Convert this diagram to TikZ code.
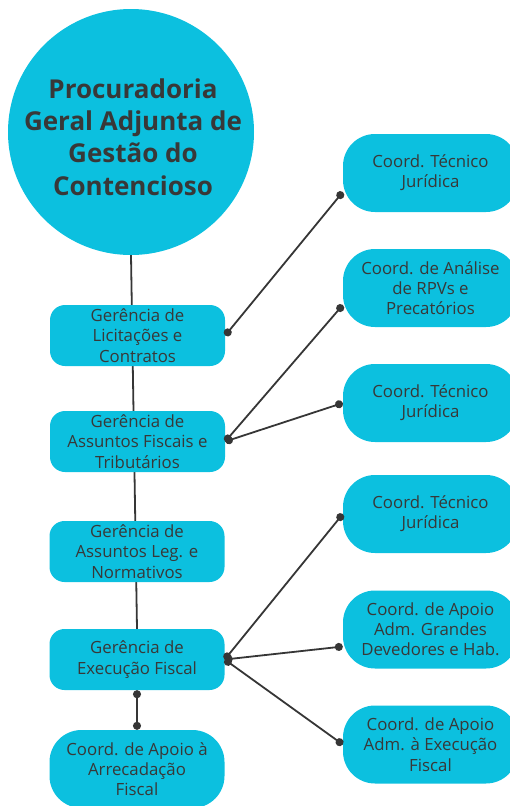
\documentclass[tikz,border=0pt]{standalone}
\usepackage{fontspec}
\setmainfont{Open Sans}
\usetikzlibrary{arrows.meta,backgrounds}

\definecolor{boxcyan}{HTML}{0CC0DF}
\definecolor{ink}{HTML}{383838}
\definecolor{wire}{HTML}{363636}

\begin{document}
\begin{tikzpicture}[x=1pt,y=-1pt]
  \tikzstyle{gerencia}=[rectangle, rounded corners=15pt, fill=boxcyan, text=ink,
    minimum width=175pt, minimum height=61pt, inner sep=0pt, align=center,
    font=\fontsize{16.8}{20.2}\selectfont]
  \tikzstyle{coord}=[gerencia, rounded corners=32pt, minimum height=78pt]
  \tikzstyle{link}=[draw=wire, line width=1.8pt]
  \tikzstyle{dots}=[link, {Circle[length=8pt]}-{Circle[length=8pt]}]

  \useasboundingbox (0,0) rectangle (510,806);

  \node[circle, fill=boxcyan, minimum size=246pt, inner sep=0pt] (pgadj) at (131, 132) {};
  \node[text=ink, align=center, font=\fontsize{26}{32.4}\selectfont\bfseries]
    (pgtxt) at (133, 137) {Procuradoria\\Geral Adjunta de\\Gestão do\\Contencioso};

  \node[gerencia] (lic) at (137.5, 335.5) {Gerência de\\Licitações e\\Contratos};
  \node[gerencia] (fis) at (137.5, 441.5) {Gerência de\\Assuntos Fiscais e\\Tributários};
  \node[gerencia] (leg) at (137,   551.5) {Gerência de\\Assuntos Leg. e\\Normativos};
  \node[gerencia] (exe) at (137,   659.5) {Gerência de\\Execução Fiscal};
  \node[coord]    (arr) at (137,   769)   {Coord. de Apoio à\\Arrecadação\\Fiscal};

  \node[coord] (tec1) at (430.5, 173)   {Coord. Técnico\\Jurídica};
  \node[coord] (rpv)  at (430.5, 288)   {Coord. de Análise\\de RPVs e\\Precatórios};
  \node[coord] (tec2) at (430.5, 403)   {Coord. Técnico\\Jurídica};
  \node[coord] (tec3) at (430.5, 514)   {Coord. Técnico\\Jurídica};
  \node[coord] (gdev) at (430.5, 629.5) {Coord. de Apoio\\Adm. Grandes\\Devedores e Hab.};
  \node[coord] (aexe) at (430.5, 744.5) {Coord. de Apoio\\Adm. à Execução\\Fiscal};

  \begin{scope}[on background layer]
    \draw[link] (pgadj.south) -- (exe.north);
  \end{scope}

  \draw[dots] (lic.east) -- ([yshift=-19pt]tec1.west);
  \draw[dots] (fis.east) -- ([yshift=-17pt]rpv.west);
  \draw[dots] (fis.east) -- (tec2.west);
  \draw[dots] (exe.east) -- (tec3.west);
  \draw[dots] (exe.east) -- ([yshift=-17pt]gdev.west);
  \draw[dots] (exe.east) -- (aexe.west);
  \draw[dots] (exe.south) -- (arr.north);

\end{tikzpicture}
\end{document}
